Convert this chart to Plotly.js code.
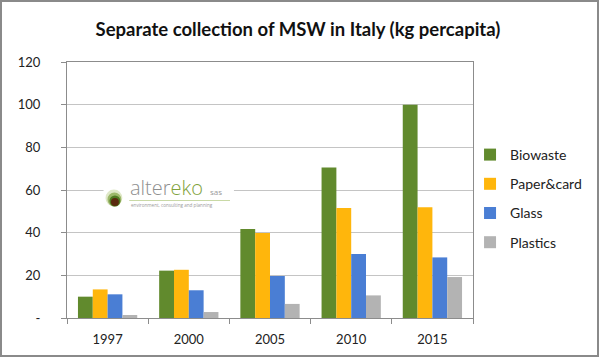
<!DOCTYPE html>
<html>
<head>
<meta charset="utf-8">
<script src="https://cdn.plot.ly/plotly-3.0.1.min.js"></script>
<style>
html,body{margin:0;padding:0;background:#fff;}
#wrap{position:relative;width:599px;height:358px;}
#chart{width:599px;height:358px;}
#frame{position:absolute;left:0;top:0;width:599px;height:357px;box-sizing:border-box;border:2px solid #8a8a8a;pointer-events:none;}
</style>
</head>
<body>
<div id="wrap"><div id="chart"></div><div id="frame"></div></div>
<script>
var years = ['1997', '2000', '2005', '2010', '2015'];
var seriesNames = ['Biowaste', 'Paper&card', 'Glass', 'Plastics'];
var biowaste = [10.0, 22.2, 41.7, 70.6, 100.0];
var paperCard = [13.4, 22.6, 39.8, 51.6, 51.9];
var glass = [11.1, 13.0, 19.7, 30.0, 28.4];
var plastics = [1.4, 2.8, 6.6, 10.6, 19.2];
var seriesColors = ['#618A2D', '#FFB60C', '#4A7ED4', '#B3B3B3'];
var yTickVals = [0, 20, 40, 60, 80, 100, 120];
var yTickLabels = ['-', '20', '40', '60', '80', '100', '120'];
var titleText = 'Separate collection of MSW in Italy (kg percapita)';

var values = [biowaste, paperCard, glass, plastics];
var traces = values.map(function (v, i) {
  return {
    type: 'bar',
    x: years,
    y: v,
    name: seriesNames[i],
    legendgroup: 'g' + i,
    marker: {color: seriesColors[i], line: {width: 0}},
    hoverinfo: 'x+y+name'
  };
});

// paper coordinate helpers for the plot area (px: 67..478 x, 62..318 y)
function px(x) { return (x - 67) / 411; }
function py(y) { return (318 - y) / 256; }

var layout = {
  width: 599,
  height: 358,
  margin: {l: 67, r: 121, t: 62, b: 40, pad: 0},
  paper_bgcolor: '#ffffff',
  plot_bgcolor: '#ffffff',
  font: {family: 'Lato, Carlito, "Liberation Sans", sans-serif', color: '#222222', size: 13},
  title: {
    text: titleText,
    font: {family: 'Lato, Carlito, "Liberation Sans", sans-serif', size: 18.5, color: '#111111', weight: 'bold'},
    x: 298 / 599, xanchor: 'center', xref: 'container',
    y: 1 - 30 / 358, yanchor: 'middle', yref: 'container'
  },
  barmode: 'group',
  bargap: 0.27,
  bargroupgap: 0,
  showlegend: true,
  legend: {
    x: px(475), xanchor: 'left',
    y: py(139), yanchor: 'top',
    font: {size: 14, color: '#222222'},
    tracegroupgap: 8,
    bgcolor: 'rgba(0,0,0,0)'
  },
  xaxis: {
    type: 'category',
    showgrid: false,
    showline: true,
    linecolor: '#8c8c8c',
    linewidth: 1,
    mirror: true,
    ticks: 'outside',
    tickson: 'boundaries',
    ticklen: 5,
    tickcolor: '#8c8c8c',
    tickfont: {size: 13, color: '#222222'},
    ticklabelstandoff: 9,
    zeroline: false,
    fixedrange: true
  },
  yaxis: {
    range: [0, 120],
    tickvals: yTickVals,
    ticktext: yTickLabels,
    showgrid: true,
    gridcolor: '#c4c4c4',
    gridwidth: 1,
    showline: true,
    linecolor: '#8c8c8c',
    linewidth: 1,
    mirror: true,
    ticks: 'outside',
    ticklen: 5,
    tickcolor: '#8c8c8c',
    tickfont: {size: 13, color: '#222222'},
    ticklabelstandoff: 18,
    zeroline: false,
    fixedrange: true
  },
  shapes: [
    // logo background
    {type: 'rect', xref: 'paper', yref: 'paper', x0: px(104), x1: px(236), y0: py(212), y1: py(178),
     fillcolor: '#ffffff', line: {width: 0}, layer: 'above'},
    // logo icon rings
    {type: 'circle', xref: 'paper', yref: 'paper', x0: px(106), x1: px(123), y0: py(206.5), y1: py(189.5),
     fillcolor: '#dfe8c8', line: {width: 0}, layer: 'above'},
    {type: 'circle', xref: 'paper', yref: 'paper', x0: px(108), x1: px(122), y0: py(206.5), y1: py(192.5),
     fillcolor: '#9cb86a', line: {width: 0}, layer: 'above'},
    {type: 'circle', xref: 'paper', yref: 'paper', x0: px(110), x1: px(121), y0: py(206.5), y1: py(195.5),
     fillcolor: '#4f7a22', line: {width: 0}, layer: 'above'},
    {type: 'circle', xref: 'paper', yref: 'paper', x0: px(111.5), x1: px(119.5), y0: py(206), y1: py(198),
     fillcolor: '#5a2a0e', line: {width: 0}, layer: 'above'},
    // underline of logo word
    {type: 'line', xref: 'paper', yref: 'paper', x0: px(130), x1: px(232), y0: py(200.5), y1: py(200.5),
     line: {color: '#c9d9a6', width: 1}, layer: 'above'}
  ],
  annotations: [
    {xref: 'paper', yref: 'paper', x: px(129), y: py(187.5), xanchor: 'left', yanchor: 'middle', showarrow: false,
     text: '<span style="color:#8f8f8f">alter</span><span style="color:#7fa23c">eko</span>',
     font: {family: '"Open Sans", Lato, sans-serif', size: 20, weight: 300, color: '#8f8f8f'}},
    {xref: 'paper', yref: 'paper', x: px(210), y: py(191), xanchor: 'left', yanchor: 'middle', showarrow: false,
     text: 'sas', font: {family: '"Open Sans", sans-serif', size: 8, color: '#9a9a9a'}},
    {xref: 'paper', yref: 'paper', x: px(130), y: py(205), xanchor: 'left', yanchor: 'middle', showarrow: false,
     text: 'environment, consulting and planning', font: {family: '"Open Sans", sans-serif', size: 4.6, color: '#9a9a9a'}}
  ]
};

Plotly.newPlot('chart', traces, layout, {displayModeBar: false, staticPlot: true});
</script>
</body>
</html>
